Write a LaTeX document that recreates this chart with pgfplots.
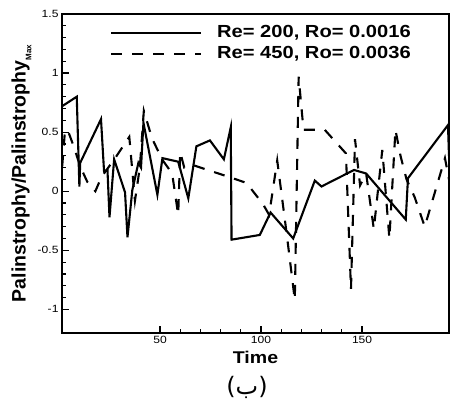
\documentclass[border=0pt]{standalone}
\usepackage{pgfplots}
\pgfplotsset{compat=1.18}
\usepackage{fontspec}
\setmainfont{Liberation Sans}[FakeStretch=1.15]
\newfontfamily\plainsans{Liberation Sans}
\newfontfamily\arabicfont[Script=Arabic]{DejaVu Sans}
\begin{document}
\begin{tikzpicture}
\useasboundingbox (-62pt,-68pt) rectangle (389pt,333pt);
\begin{axis}[
  scale only axis, width=387pt, height=319pt,
  at={(0pt,0pt)}, anchor=south west,
  xmin=1.5, xmax=193, ymin=-1.2, ymax=1.5,
  xtick={50,100,150}, ytick={-1,-0.5,0,0.5,1,1.5},
  yticklabels={-1,-0.5,0,0.5,1,1.5},
  minor x tick num=4, minor y tick num=4,
  tick align=inside, xtick pos=bottom, ytick pos=left,
  major tick length=7pt, minor tick length=4pt,
  every tick/.style={black, line width=1.2pt},
  axis line style={line width=1.8pt},
  tick label style={font=\fontsize{10.5}{12}\selectfont},
  /pgf/number format/assume math mode=true,
  xlabel={\bfseries\fontsize{17}{20}\selectfont Time},
  xlabel style={at={(axis description cs:0.5,-0.078)}, anchor=center},
  ylabel={\plainsans\bfseries\fontsize{19.5}{22}\selectfont Palinstrophy/Palinstrophy\raisebox{-0.3em}{\fontsize{8}{9}\selectfont Max}},
  ylabel style={at={(axis description cs:-0.1047,0.5)}, anchor=center, rotate=0},
  legend cell align=left,
  legend style={draw=none, fill=none, at={(axis description cs:0.912,0.978)}, anchor=north east,
    font=\bfseries\fontsize{17.5}{20}\selectfont,
    nodes={inner sep=1pt, text depth=3.5pt, text height=13.5pt}, row sep=2pt,
    /tikz/every odd column/.append style={column sep=14pt}},
  legend image code/.code={\draw[#1] (0pt,0pt) -- (90pt,0pt);},
]
\addplot[black, line width=2.1pt, line join=miter] coordinates {
(1.6,0.72)(8.8,0.80)(10.1,0.04)(10.5,0.24)(20.8,0.61)(22.3,0.17)(24,0.18)(25,-0.22)
(27.3,0.27)(32.7,-0.01)(33.9,-0.39)(36.3,0.01)(39.3,0.24)(40.6,0.20)(41.8,0.58)
(48.7,-0.03)(51.2,0.28)(59,0.25)(64,-0.06)(68,0.38)(74.7,0.43)(81.6,0.27)(85,0.54)
(85.4,-0.41)(99.4,-0.37)(104.7,-0.18)(115.9,-0.40)(117.2,-0.34)(126.6,0.09)(129.9,0.04)
(146,0.18)(152,0.15)(171.6,-0.24)(172.7,0.11)(192.5,0.56)(193,0.3)
};
\addlegendentry{Re= 200, Ro= 0.0016}
\addplot[black, line width=2.1pt, dash pattern=on 11pt off 10pt] coordinates {
(1.6,0.21)(3,0.52)(4.7,0.50)(7.5,0.37)(10.5,0.21)(14,0.08)(18,0.0)(21,0.12)(27.8,0.28)
(34.8,0.46)(37.6,-0.08)(40,0.2)(42,0.68)(46,0.45)(51,0.27)(56,0.15)(59,-0.2)(60,0.33)
(62,0.2)(66.5,0.22)(86,0.11)(92.8,0.07)(101,-0.11)(104,-0.2)(108,0.26)(112.6,-0.35)
(116.7,-0.92)(118.6,0.97)(121,0.52)(131.5,0.52)(142,0.32)(144.5,-0.83)(146.5,0.44)
(149,0.05)(152,0.15)(155.8,-0.32)(160,0.35)(163.5,-0.4)(166.5,0.52)(169,0.3)(172,0.1)
(176,-0.05)(181,-0.3)(191,0.28)(193,0.1)
};
\addlegendentry{Re= 450, Ro= 0.0036}
\end{axis}
\node[anchor=center, inner sep=0pt] at (185pt,-54pt) {\arabicfont\fontsize{24}{28}\selectfont (ب)};
\end{tikzpicture}
\end{document}
